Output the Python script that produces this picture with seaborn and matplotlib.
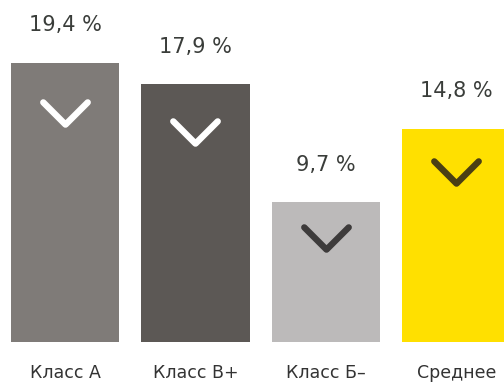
import matplotlib
matplotlib.use("Agg")
import matplotlib.pyplot as plt
import matplotlib.transforms as mtransforms
from matplotlib.path import Path
from matplotlib.markers import MarkerStyle
import seaborn as sns
import pandas as pd

categories = ["Класс А", "Класс В+", "Класс Б–", "Среднее"]
values = [19.4, 17.9, 9.7, 14.8]
value_labels = ["19,4 %", "17,9 %", "9,7 %", "14,8 %"]
bar_colors = ["#7f7b78", "#5c5855", "#bcbaba", "#ffe000"]
chevron_colors = ["#ffffff", "#ffffff", "#3d3b3b", "#4a3f14"]

sns.set_theme(style="white")
plt.rcParams["font.family"] = ["DejaVu Sans"]

df = pd.DataFrame({"category": categories, "value": values})

fig = plt.figure(figsize=(5.04, 3.83), dpi=100)
ax = fig.add_axes([0, 41 / 383, 1, 342 / 383])

sns.barplot(data=df, x="category", y="value", hue="category",
            palette=bar_colors, width=0.83, legend=False, ax=ax,
            saturation=1, linewidth=0)

ax.set_xlim(-0.498, 3.364)
ax.set_ylim(0, 23.75)
ax.set_xlabel("")
ax.set_ylabel("")
ax.set_yticks([])
sns.despine(ax=ax, left=True, bottom=True, top=True, right=True)
ax.tick_params(axis="x", length=0, pad=16, labelsize=12.5, labelcolor="#333333")

# value labels above each bar
for i, (v, lab) in enumerate(zip(values, value_labels)):
    ax.annotate(lab, xy=(i, v), xytext=(0, 27), textcoords="offset points",
                ha="center", va="center", fontsize=15, color="#3a3d3a")

# chevron marker inside each bar, set down from the top by a share of its height
chevron_path = Path([(-1, 0.5), (0, -0.5), (1, 0.5)],
                    [Path.MOVETO, Path.LINETO, Path.LINETO])
chevron = MarkerStyle(chevron_path, fillstyle="none",
                      capstyle="round", joinstyle="round")
shift = mtransforms.ScaledTranslation(0, -0.22, fig.dpi_scale_trans)
for i, v in enumerate(values):
    ax.plot([i], [0.9 * v], marker=chevron, markersize=32, markeredgewidth=4.6,
            markeredgecolor=chevron_colors[i],
            linestyle="none", transform=ax.transData + shift)

fig.savefig("out.png", dpi=100, facecolor="white")
